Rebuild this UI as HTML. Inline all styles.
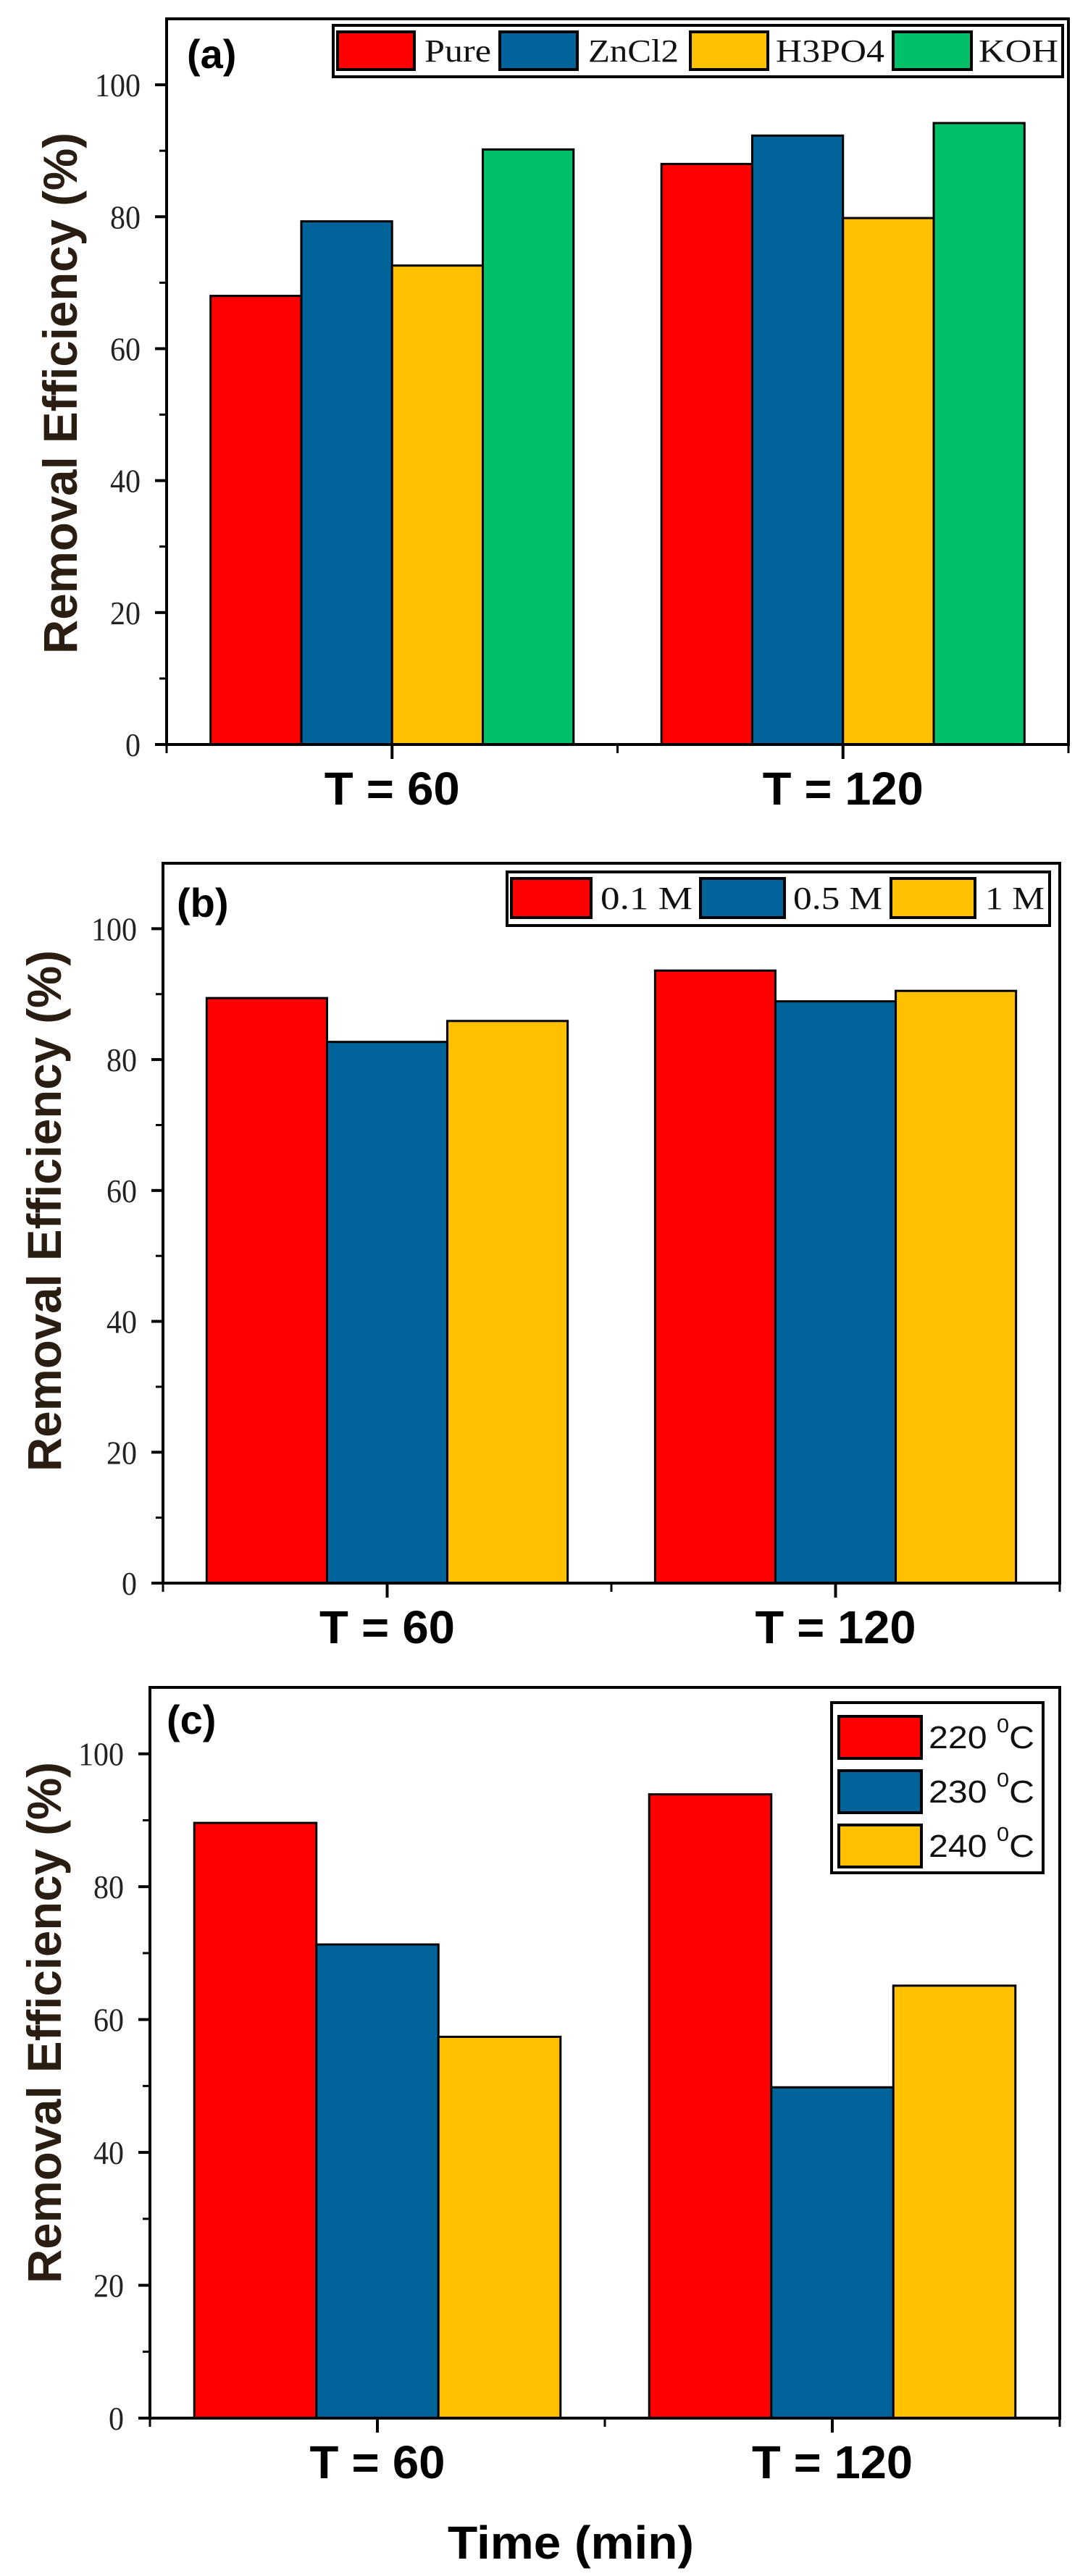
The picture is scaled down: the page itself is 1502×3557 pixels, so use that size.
<!DOCTYPE html>
<html><head><meta charset="utf-8"><style>
html,body{margin:0;padding:0;background:#fff;}
svg{display:block;}
</style></head><body>
<svg id="fig" width="1502" height="3557" viewBox="0 0 1502 3557" xmlns="http://www.w3.org/2000/svg">
<text x="788" y="3533" font-family="Liberation Sans, sans-serif" font-weight="bold" font-size="64" text-anchor="middle" textLength="340" lengthAdjust="spacingAndGlyphs" fill="#000">Time (min)</text>
</svg>
<script>
// ---- Panel (a) data ----
const catsA = ["T = 60", "T = 120"];
const seriesNamesA = ["Pure", "ZnCl2", "H3PO4", "KOH"];
const pureA = [68, 88];
const zncl2A = [79.3, 92.3];
const h3po4A = [72.6, 79.8];
const kohA = [90.2, 94.2];
// ---- Panel (b) data ----
const catsB = ["T = 60", "T = 120"];
const seriesNamesB = ["0.1 M", "0.5 M", "1 M"];
const m01B = [89.4, 93.6];
const m05B = [82.7, 88.9];
const m1B = [85.9, 90.5];
// ---- Panel (c) data ----
const catsC = ["T = 60", "T = 120"];
const seriesNamesC = ["220", "230", "240"];
const t220C = [89.6, 93.9];
const t230C = [71.3, 49.8];
const t240C = [57.4, 65.1];
// ---- shared axis ----
const yTicks = [0, 20, 40, 60, 80, 100];
const yMinor = [10, 30, 50, 70, 90];

const NS = "http://www.w3.org/2000/svg";
const svg = document.getElementById("fig");
const COLORS = ["#ff0000", "#00649b", "#ffc000", "#00c06a"];
function el(tag, attrs, parent) {
  const e = document.createElementNS(NS, tag);
  for (const k in attrs) e.setAttribute(k, attrs[k]);
  (parent || svg).appendChild(e);
  return e;
}

function panel(cfg) {
  const g = el("g", {});
  
  
  const L = cfg.left, R = cfg.right, T = cfg.top, B = cfg.bottom;
  const ymax = 110;
  const y = v => B - (B - T) * v / ymax;
  const W = R - L;
  const xc = i => L + W * (i + 0.5) / cfg.cats.length;
  const catW = W / cfg.cats.length;
  const groupW = catW * 0.805;
  const n = cfg.series.length;
  const bw = groupW / n;
  cfg.series.forEach((vals, s) => {
    vals.forEach((v, i) => {
      const x0 = xc(i) - groupW / 2 + s * bw;
      const r = el("rect", {x: x0, y: y(v), width: bw, height: B - y(v), fill: COLORS[s], stroke: "#000", "stroke-width": 3}, g);
      
      
    });
  });
  const fr = el("rect", {x: L, y: T, width: W, height: B - T, fill: "none", stroke: "#000", "stroke-width": 4}, g);
  
  
  yTicks.forEach(t => {
    const tk = el("line", {x1: L - 16, x2: L, y1: y(t), y2: y(t), stroke: "#000", "stroke-width": 4}, g);
    
    
    const lb = el("text", {x: L - 36, y: y(t) + 16, "font-family": "Liberation Serif, serif", "font-size": 46, "text-anchor": "end", fill: "#222", textLength: String(t).length * 21, lengthAdjust: "spacingAndGlyphs"}, g);
    lb.textContent = t;
    
    
  });
  yMinor.forEach(t => {
    const tk = el("line", {x1: L - 10, x2: L, y1: y(t), y2: y(t), stroke: "#000", "stroke-width": 3}, g);
    
    
  });
  cfg.cats.forEach((c, i) => {
    const tk = el("line", {x1: xc(i), x2: xc(i), y1: B, y2: B + 20, stroke: "#000", "stroke-width": 4}, g);
    
    
    const lb = el("text", {x: xc(i), y: B + 83, "font-family": "Liberation Sans, sans-serif", "font-weight": "bold", "font-size": 64, "text-anchor": "middle", fill: "#000", textLength: c.length > 6 ? 222 : 187, lengthAdjust: "spacingAndGlyphs"}, g);
    lb.textContent = c;
    
    
  });
  [L, L + W / 2, R].forEach(xx => {
    const tk = el("line", {x1: xx, x2: xx, y1: B, y2: B + 12, stroke: "#000", "stroke-width": 3}, g);
    
    
  });
  const ty = el("text", {x: 0, y: 0, transform: `translate(${cfg.titleX},${cfg.titleY}) rotate(-90)`, "font-family": "Liberation Sans, sans-serif", "font-weight": "bold", "font-size": 66, "text-anchor": "middle", fill: "#2a1d12", textLength: 720, lengthAdjust: "spacingAndGlyphs"}, g);
  ty.textContent = "Removal Efficiency (%)";
  
  
  const pl = el("text", {x: cfg.letterX, y: cfg.letterY, "font-family": "Liberation Sans, sans-serif", "font-weight": "bold", "font-size": 56, fill: "#000"}, g);
  pl.textContent = "(" + cfg.id + ")";
  
  
  const lg = cfg.legend;
  const lgG = el("g", {}, g);
  
  
  el("rect", {x: lg.x, y: lg.y, width: lg.w, height: lg.h, fill: "#fff", stroke: "#000", "stroke-width": 4}, lgG);
  lg.items.forEach((it, s) => {
    const e = el("g", {}, lgG);
    
    
    el("rect", {x: it.sx, y: it.sy, width: it.sw, height: it.sh, fill: COLORS[s], stroke: "#000", "stroke-width": 4}, e);
    const t = el("text", {x: it.tx, y: it.sy + it.sh / 2 + 15, "font-family": lg.font, "font-size": 44, fill: "#111", textLength: it.tw, lengthAdjust: "spacingAndGlyphs"}, e);
    if (lg.deg) {
      t.textContent = cfg.names[s] + " ";
      const sup = el("tspan", {dy: -22, "font-size": 28}, t);
      sup.textContent = "0";
      const c2 = el("tspan", {dy: 22}, t);
      c2.textContent = "C";
    } else {
      t.textContent = cfg.names[s];
    }
  });
}

panel({id: "a", left: 230, right: 1475, top: 26, bottom: 1028, cats: catsA, names: seriesNamesA,
  series: [pureA, zncl2A, h3po4A, kohA], titleX: 106, titleY: 543, letterX: 258, letterY: 94,
  legend: {x: 460, y: 35, w: 1007, h: 71, font: "Liberation Serif, serif",
    items: [
      {sx: 466, sy: 44, sw: 106, sh: 52, tx: 586, tw: 92},
      {sx: 690, sy: 44, sw: 107, sh: 52, tx: 812, tw: 125},
      {sx: 953, sy: 44, sw: 107, sh: 52, tx: 1071, tw: 150},
      {sx: 1233, sy: 44, sw: 108, sh: 52, tx: 1351, tw: 110}]}});

panel({id: "b", left: 225, right: 1463, top: 1192, bottom: 2186, cats: catsB, names: seriesNamesB,
  series: [m01B, m05B, m1B], titleX: 84, titleY: 1672, letterX: 244, letterY: 1266,
  legend: {x: 700, y: 1204, w: 749, h: 74, font: "Liberation Serif, serif",
    items: [
      {sx: 706, sy: 1213, sw: 110, sh: 54, tx: 829, tw: 127},
      {sx: 967, sy: 1213, sw: 116, sh: 54, tx: 1095, tw: 123},
      {sx: 1230, sy: 1213, sw: 116, sh: 54, tx: 1360, tw: 82}]}});

panel({id: "c", left: 207, right: 1463, top: 2330, bottom: 3339, cats: catsC, names: seriesNamesC,
  series: [t220C, t230C, t240C], titleX: 84, titleY: 2793, letterX: 230, letterY: 2394,
  legend: {x: 1148, y: 2351, w: 292, h: 235, font: "Liberation Sans, sans-serif", deg: true,
    items: [
      {sx: 1158, sy: 2370, sw: 114, sh: 58, tx: 1282, tw: 146},
      {sx: 1158, sy: 2445, sw: 114, sh: 58, tx: 1282, tw: 146},
      {sx: 1158, sy: 2520, sw: 114, sh: 58, tx: 1282, tw: 146}]}});
</script>
</body></html>
